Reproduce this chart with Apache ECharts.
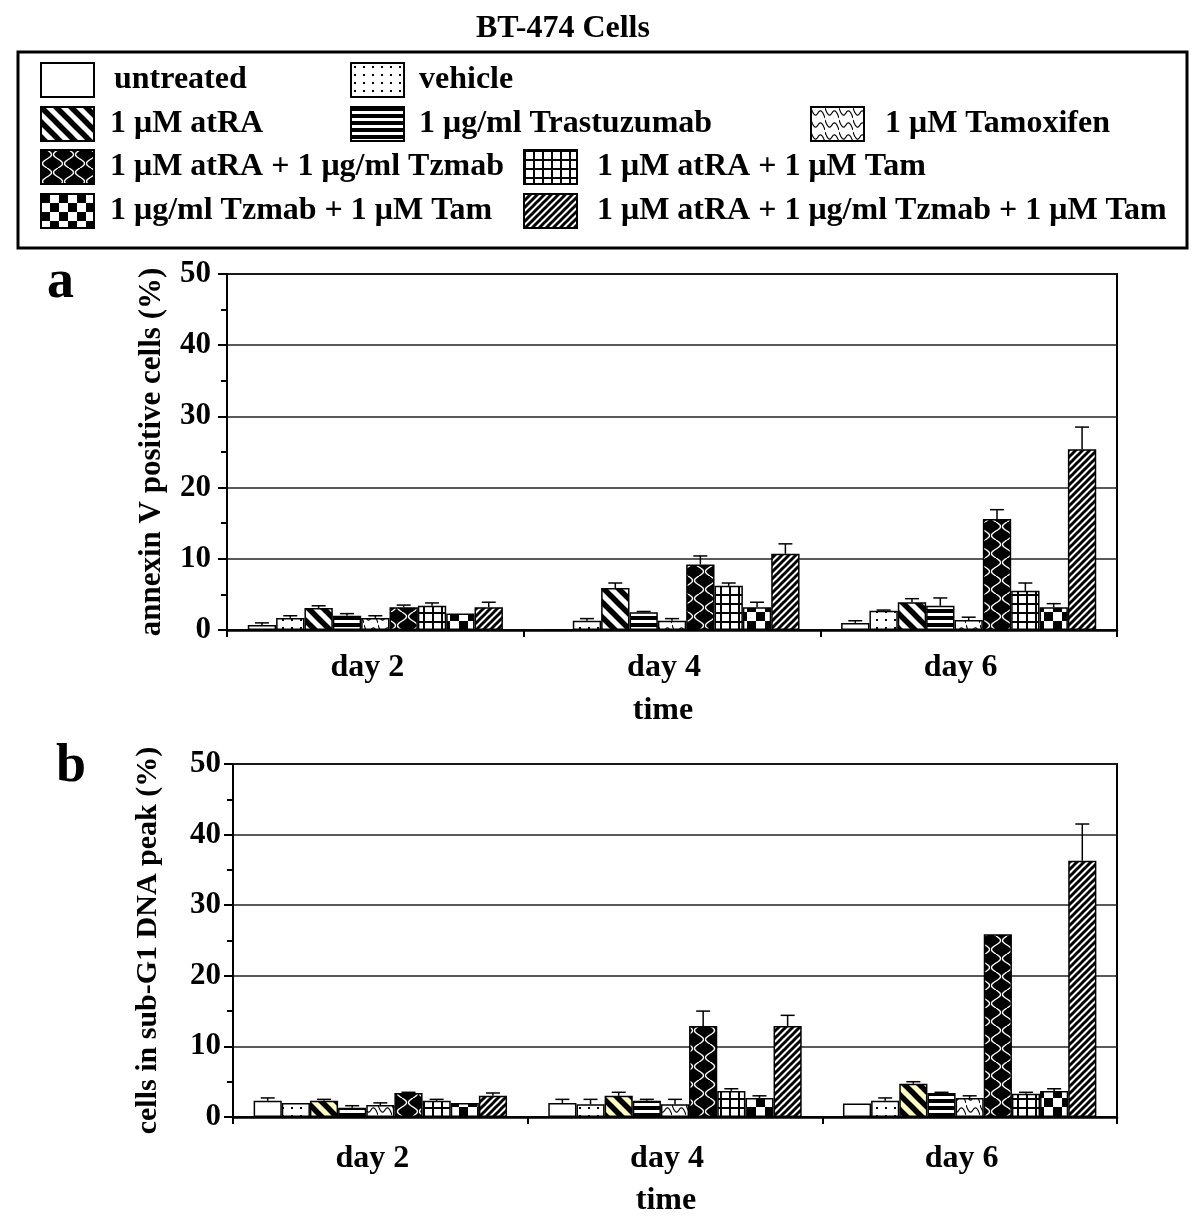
<!DOCTYPE html>
<html>
<head>
<meta charset="utf-8">
<script src="https://cdn.jsdelivr.net/npm/echarts@6/dist/echarts.min.js"></script>
<style>html,body{margin:0;padding:0;background:#fff;}#c{width:1200px;height:1226px;}</style>
</head>
<body>
<div id="c"></div>
<script>
// ---------- data ----------
const days = ['day 2', 'day 4', 'day 6'];
const seriesNames = [
  'untreated', 'vehicle', '1 μM atRA', '1 μg/ml Trastuzumab', '1 μM Tamoxifen',
  '1 μM atRA + 1 μg/ml Tzmab', '1 μM atRA + 1 μM Tam', '1 μg/ml Tzmab + 1 μM Tam',
  '1 μM atRA + 1 μg/ml Tzmab + 1 μM Tam'
];
const yTicks = [0, 10, 20, 30, 40, 50];

// panel a: annexin V positive cells (%)
const annexUntreated = [0.7, 0.1, 1.0];
const annexVehicle   = [1.7, 1.3, 2.7];
const annexAtra      = [3.1, 5.9, 3.9];
const annexTzmab     = [2.0, 2.5, 3.4];
const annexTam       = [1.7, 1.3, 1.4];
const annexAtraTz    = [3.2, 9.2, 15.6];
const annexAtraTam   = [3.4, 6.2, 5.5];
const annexTzTam     = [2.3, 3.2, 3.2];
const annexTriple    = [3.2, 10.7, 25.4];
const annexErrUntreated = [0.3, 0, 0.3];
const annexErrVehicle   = [0.3, 0.3, 0.1];
const annexErrAtra      = [0.3, 0.7, 0.5];
const annexErrTzmab     = [0.3, 0.1, 1.1];
const annexErrTam       = [0.3, 0.3, 0.4];
const annexErrAtraTz    = [0.3, 1.2, 1.3];
const annexErrAtraTam   = [0.4, 0.4, 1.1];
const annexErrTzTam     = [0, 0.7, 0.5];
const annexErrTriple    = [0.7, 1.4, 3.1];

// panel b: cells in sub-G1 DNA peak (%)
const subUntreated = [2.3, 2.0, 1.9];
const subVehicle   = [2.0, 1.8, 2.3];
const subAtra      = [2.3, 3.0, 4.7];
const subTzmab     = [1.3, 2.3, 3.4];
const subTam       = [1.7, 1.8, 2.7];
const subAtraTz    = [3.4, 12.9, 25.9];
const subAtraTam   = [2.3, 3.7, 3.3];
const subTzTam     = [2.0, 2.7, 3.7];
const subTriple    = [3.0, 12.9, 36.3];
const subErrUntreated = [0.4, 0.5, 0];
const subErrVehicle   = [0, 0.7, 0.4];
const subErrAtra      = [0.2, 0.5, 0.3];
const subErrTzmab     = [0.3, 0.2, 0.1];
const subErrTam       = [0.3, 0.7, 0.3];
const subErrAtraTz    = [0.1, 2.1, 0];
const subErrAtraTam   = [0.2, 0.3, 0.2];
const subErrTzTam     = [0, 0.3, 0.3];
const subErrTriple    = [0.4, 1.5, 5.2];

const annexVals = [annexUntreated, annexVehicle, annexAtra, annexTzmab, annexTam, annexAtraTz, annexAtraTam, annexTzTam, annexTriple];
const annexErrs = [annexErrUntreated, annexErrVehicle, annexErrAtra, annexErrTzmab, annexErrTam, annexErrAtraTz, annexErrAtraTam, annexErrTzTam, annexErrTriple];
const subVals = [subUntreated, subVehicle, subAtra, subTzmab, subTam, subAtraTz, subAtraTam, subTzTam, subTriple];
const subErrs = [subErrUntreated, subErrVehicle, subErrAtra, subErrTzmab, subErrTam, subErrAtraTz, subErrAtraTam, subErrTzTam, subErrTriple];

// ---------- patterns ----------
function mk(w, h, draw) {
  const c = document.createElement('canvas');
  c.width = w; c.height = h;
  const g = c.getContext('2d');
  draw(g, w, h);
  return { image: c, repeat: 'repeat' };
}
function diag(w, lw, fg, bg, dir) {
  return mk(w, w, (g) => {
    g.fillStyle = bg; g.fillRect(0, 0, w, w);
    g.strokeStyle = fg; g.lineWidth = lw; g.lineCap = 'square';
    for (let k = -w; k <= w; k += w) {
      g.beginPath();
      if (dir === 'back') { g.moveTo(k - 2, -2); g.lineTo(k + w + 2, w + 2); }
      else { g.moveTo(k - 2, w + 2); g.lineTo(k + w + 2, -2); }
      g.stroke();
    }
  });
}
const pWhite = '#ffffff';
const pDots = mk(9, 8, (g) => { g.fillStyle = '#fff'; g.fillRect(0, 0, 9, 8); g.fillStyle = '#000'; g.fillRect(3, 3, 2, 2); });
const pAtra = diag(15, 5.5, '#000', '#fff', 'back');
const pAtraB = diag(15, 5.5, '#000', '#ffffc4', 'back');
const pHoriz = mk(4, 7, (g) => { g.fillStyle = '#fff'; g.fillRect(0, 0, 4, 7); g.fillStyle = '#000'; g.fillRect(0, 0, 4, 4); });
const pTam = mk(14, 12, (g) => {
  g.fillStyle = '#fff'; g.fillRect(0, 0, 14, 12);
  g.strokeStyle = '#000'; g.lineWidth = 1.2;
  g.beginPath(); g.moveTo(0, 1); g.quadraticCurveTo(3.5, 12, 7, 6); g.quadraticCurveTo(10.5, 0, 14, 11); g.stroke();
});
const pAtraTz = mk(22, 18, (g) => {
  g.fillStyle = '#000'; g.fillRect(0, 0, 22, 18);
  g.strokeStyle = '#fff'; g.lineWidth = 1.4;
  g.beginPath();
  for (let y = 0; y <= 18; y++) { const x = 6 + 4.5 * Math.sin(2 * Math.PI * y / 18); y === 0 ? g.moveTo(x, y) : g.lineTo(x, y); }
  g.stroke();
  g.beginPath();
  for (let y = 0; y <= 18; y++) { const x = 17 - 4.5 * Math.sin(2 * Math.PI * y / 18); y === 0 ? g.moveTo(x, y) : g.lineTo(x, y); }
  g.stroke();
});
const pGrid = mk(9, 9, (g) => { g.fillStyle = '#fff'; g.fillRect(0, 0, 9, 9); g.fillStyle = '#000'; g.fillRect(0, 0, 2, 9); g.fillRect(0, 0, 9, 2); });
const pCheck = mk(18, 18, (g) => { g.fillStyle = '#fff'; g.fillRect(0, 0, 18, 18); g.fillStyle = '#000'; g.fillRect(0, 0, 9, 9); g.fillRect(9, 9, 9, 9); });
const pTriple = diag(7, 3, '#000', '#fff', 'fwd');

const fillsA = [pWhite, pDots, pAtra, pHoriz, pTam, pAtraTz, pGrid, pCheck, pTriple];
const fillsB = [pWhite, pDots, pAtraB, pHoriz, pTam, pAtraTz, pGrid, pCheck, pTriple];

// ---------- option ----------
const FONT = 'Liberation Serif';
const CAT_GAP = 0.14;
const txt = (size) => ({ fontFamily: FONT, fontWeight: 'bold', fontSize: size, color: '#000' });

function yAxis(gridIndex, name, gap, margin, nameSize) {
  return {
    type: 'value', gridIndex, min: 0, max: 50, interval: 10,
    name, nameLocation: 'middle', nameGap: gap, nameRotate: 90,
    nameTextStyle: txt(nameSize),
    axisLine: { show: true, lineStyle: { color: '#000', width: 2 } },
    axisTick: { show: true, length: 9, lineStyle: { color: '#000', width: 2 } },
    minorTick: { show: true, splitNumber: 2, length: 6, lineStyle: { color: '#000', width: 2 } },
    axisLabel: Object.assign({ margin, formatter: (v) => yTicks.includes(v) ? String(v) : '' }, txt(31)),
    splitLine: { show: true, lineStyle: { color: '#222', width: 1.5 } }
  };
}
function xAxis(gridIndex, margin, nameGap) {
  return {
    type: 'category', gridIndex, data: days,
    name: 'time', nameLocation: 'middle', nameGap,
    nameTextStyle: Object.assign({ padding: [0, 18, 0, 0] }, txt(32)),
    axisLine: { lineStyle: { color: '#000', width: 2.5 } },
    axisTick: { show: true, length: 7, lineStyle: { color: '#000', width: 2 } },
    axisLabel: Object.assign({ margin, padding: [0, 16, 0, 0] }, txt(32))
  };
}
function errSeries(gi, vals, errs) {
  const data = [];
  vals.forEach((arr, si) => arr.forEach((v, ci) => data.push([ci, si, v, errs[si][ci]])));
  return {
    type: 'custom', xAxisIndex: gi, yAxisIndex: gi, z: 5, silent: true,
    data,
    encode: { x: 0, y: 2 },
    renderItem(params, api) {
      const ci = api.value(0), si = api.value(1), v = api.value(2), e = api.value(3);
      if (!e) return null;
      const catW = api.size([1, 0])[0];
      const bw = catW * (1 - CAT_GAP) / seriesNames.length;
      const p0 = api.coord([ci, v]);
      const p1 = api.coord([ci, v + e]);
      const x = p0[0] + (si - (seriesNames.length - 1) / 2) * bw;
      const st = { stroke: '#000', lineWidth: 1.5 };
      return {
        type: 'group', children: [
          { type: 'line', shape: { x1: x, y1: p0[1], x2: x, y2: p1[1] }, style: st },
          { type: 'line', shape: { x1: x - 7, y1: p1[1], x2: x + 7, y2: p1[1] }, style: st }
        ]
      };
    }
  };
}

const series = [];
[[annexVals, fillsA], [subVals, fillsB]].forEach(([vals, fills], gi) => {
  vals.forEach((arr, si) => series.push({
    type: 'bar', name: seriesNames[si], xAxisIndex: gi, yAxisIndex: gi,
    data: arr, barGap: '0%', barCategoryGap: (CAT_GAP * 100) + '%',
    itemStyle: { color: fills[si], borderColor: '#000', borderWidth: 1.5 },
    emphasis: { disabled: true }
  }));
});
series.push(errSeries(0, annexVals, annexErrs));
series.push(errSeries(1, subVals, subErrs));

// legend placements
const legendPos = [
  [40, 62, 20], [350, 62, 15],
  [40, 106, 16], [350, 106, 15], [810, 106, 21],
  [40, 149, 16], [523, 149, 20],
  [40, 193, 16], [523, 193, 20]
];
const legends = seriesNames.map((n, i) => ({
  data: [n], left: legendPos[i][0], top: legendPos[i][1], padding: 0,
  itemWidth: 53, itemHeight: 34, icon: 'rect', selectedMode: false,
  itemStyle: { borderColor: '#000', borderWidth: 2 },
  textStyle: Object.assign({ padding: [0, 0, 0, legendPos[i][2] - 5] }, txt(32))
}));

const option = {
  backgroundColor: '#fff',
  animation: false,
  title: { text: 'BT-474 Cells', left: 476, top: 13, padding: 0, textStyle: txt(32) },
  legend: legends,
  grid: [
    { left: 227, top: 274, width: 890, height: 356, show: true, borderColor: '#000', borderWidth: 2 },
    { left: 233, top: 764, width: 884, height: 353, show: true, borderColor: '#000', borderWidth: 2 }
  ],
  xAxis: [xAxis(0, 22, 65), xAxis(1, 26, 68)],
  yAxis: [yAxis(0, 'annexin V positive cells (%)', 60, 16, 31), yAxis(1, 'cells in sub-G1 DNA peak (%)', 70, 12, 30)],
  series,
  graphic: [
    { type: 'rect', shape: { x: 18, y: 52, width: 1169, height: 196 }, style: { fill: 'none', stroke: '#000', lineWidth: 3 }, z: 10 },
    { type: 'text', x: 47, y: 256, style: { text: 'a', font: 'bold 54px "Liberation Serif"', fill: '#000' } },
    { type: 'text', x: 56, y: 740, style: { text: 'b', font: 'bold 54px "Liberation Serif"', fill: '#000' } }
  ]
};

const chart = echarts.init(document.getElementById('c'), null, { renderer: 'canvas' });
chart.setOption(option);
</script>
</body>
</html>
